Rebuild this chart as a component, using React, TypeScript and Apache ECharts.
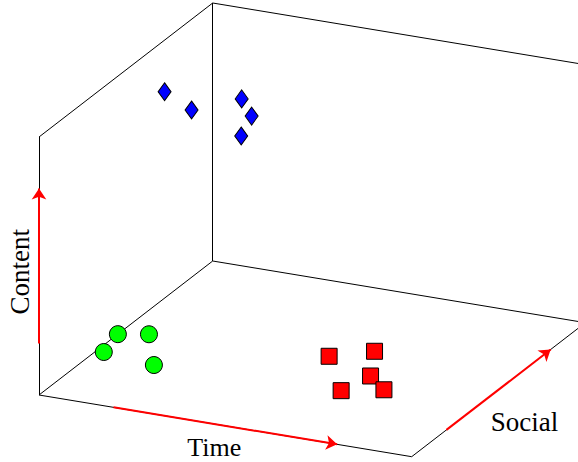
import React, { useEffect, useRef } from "react";
import * as echarts from "echarts";

// Axis labels of the 3D box
const axisNames = ["Time", "Social", "Content"];
// Each axis runs from 0 to this value
const axisMax = 10;
// Where the red direction arrows start and end along each axis
const arrowRange = [2, 8];

// Points as [time, social, content]
const greenCluster = [
  [0.0, 4.54, 0],
  [0.69, 4.85, 0],
  [0.2, 3.3, 0],
  [1.68, 3.01, 0],
];
const redCluster = [
  [5.3, 5.33, 0],
  [6.16, 6.1, 0],
  [6.78, 4.54, 0],
  [6.55, 3.34, 0],
  [7.47, 3.83, 0],
];
const blueCluster = [
  [0.0, 7.23, 8],
  [1.12, 6.38, 8],
  [1.91, 7.57, 8],
  [2.62, 6.62, 8],
  [2.96, 5.29, 8],
];

const W = 578;
const H = 462;

// oblique projection (screen units per data unit)
const ORIGIN = [39, 395];
const UT = [37.27, 6.17];
const US = [17.37, -13.4];
const UC = [0, -25.8];

function project(p: number[]): number[] {
  const [t, s, c] = p;
  return [
    ORIGIN[0] + UT[0] * t + US[0] * s + UC[0] * c,
    ORIGIN[1] + UT[1] * t + US[1] * s + UC[1] * c,
  ];
}

export default function App() {
  const ref = useRef<HTMLDivElement>(null);
  useEffect(() => {
    if (!ref.current) return;
    const chart = echarts.init(ref.current, undefined, { renderer: "svg" });
    const m = axisMax;
    const edges3d = [
      [[0, 0, 0], [0, 0, m]],
      [[0, 0, m], [0, m, m]],
      [[0, m, 0], [0, m, m]],
      [[0, m, m], [m, m, m]],
      [[0, 0, 0], [0, m, 0]],
      [[0, m, 0], [m, m, 0]],
      [[0, 0, 0], [m, 0, 0]],
      [[m, 0, 0], [m, m, 0]],
      [[m, m, 0], [m, m, m]],
    ];
    const [a0, a1] = arrowRange;
    const arrows3d = [
      [[a0, 0, 0], [a1, 0, 0]],
      [[m, a0, 0], [m, a1, 0]],
      [[0, 0, a0], [0, 0, a1]],
    ];
    const font = "'Liberation Serif', 'Times New Roman', serif";
    const labelStyle = (text: string, size: number) => ({
      text,
      fill: "#000",
      fontSize: size,
      lineHeight: 18,
      fontFamily: font,
      textAlign: "center",
      textVerticalAlign: "middle",
    });
    const timeAnchor = project([5, 0, 0]);
    const socialAnchor = project([m, 5, 0]);
    const contentAnchor = project([0, 0, 5]);
    chart.setOption({
      animation: false,
      grid: { left: 0, right: 0, top: 0, bottom: 0 },
      xAxis: { type: "value", min: 0, max: W, show: false },
      yAxis: { type: "value", min: 0, max: H, inverse: true, show: false },
      series: [
        {
          type: "lines",
          coordinateSystem: "cartesian2d",
          silent: true,
          lineStyle: { color: "#000", width: 1, opacity: 1 },
          data: edges3d.map((e) => ({ coords: e.map(project) })),
          z: 1,
        },
        {
          type: "lines",
          coordinateSystem: "cartesian2d",
          silent: true,
          symbol: ["none", "arrow"],
          symbolSize: 11,
          lineStyle: { color: "#ff0000", width: 2, opacity: 1 },
          data: arrows3d.map((e) => ({ coords: e.map(project) })),
          z: 2,
        },
        {
          type: "scatter",
          symbol: "circle",
          symbolSize: 17,
          itemStyle: { color: "#00ff00", borderColor: "#000", borderWidth: 1, opacity: 1 },
          data: greenCluster.map(project),
          z: 3,
        },
        {
          type: "scatter",
          symbol: "rect",
          symbolSize: 16,
          itemStyle: { color: "#ff0000", borderColor: "#000", borderWidth: 1, opacity: 1 },
          data: redCluster.map(project),
          z: 3,
        },
        {
          type: "scatter",
          symbol: "diamond",
          symbolSize: [13, 18],
          itemStyle: { color: "#0000ff", borderColor: "#000", borderWidth: 1, opacity: 1 },
          data: blueCluster.map(project),
          z: 3,
        },
      ],
      graphic: [
        {
          type: "text",
          x: timeAnchor[0] - 11,
          y: timeAnchor[1] + 21.5,
          style: labelStyle(axisNames[0], 26),
        },
        {
          type: "text",
          x: socialAnchor[0] + 26,
          y: socialAnchor[1] + 32,
          style: labelStyle(axisNames[1], 27),
        },
        {
          type: "text",
          x: contentAnchor[0] - 19.5,
          y: contentAnchor[1] + 5.7,
          rotation: Math.PI / 2,
          style: labelStyle(axisNames[2], 27),
        },
      ],
    });
    return () => chart.dispose();
  }, []);
  return (
    <div
      ref={ref}
      style={{ position: "fixed", left: 0, top: 0, width: W, height: H, background: "#fff" }}
    />
  );
}
